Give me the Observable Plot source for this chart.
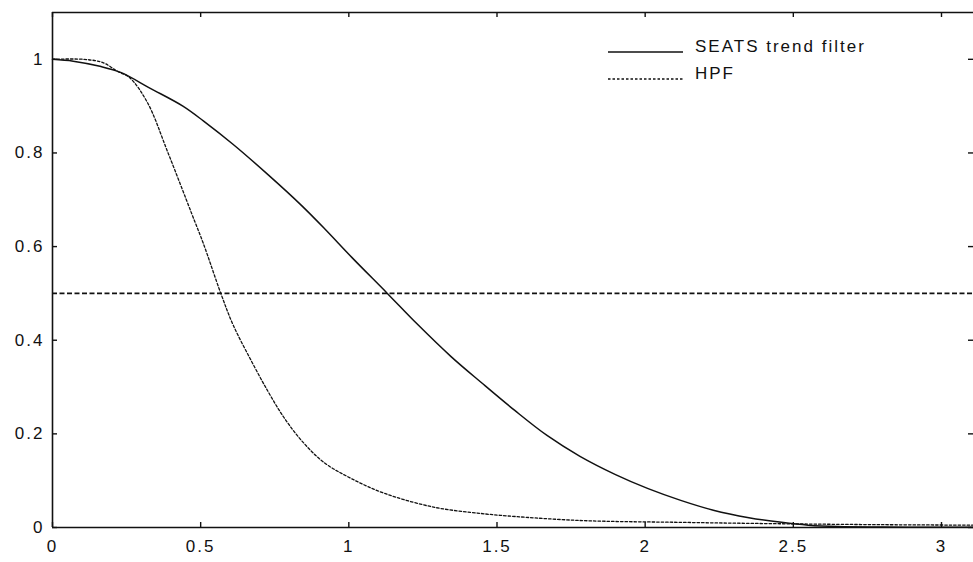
<!DOCTYPE html>
<html>
<head>
<meta charset="utf-8">
<script src="https://cdn.jsdelivr.net/npm/d3@7"></script>
<script src="https://cdn.jsdelivr.net/npm/@observablehq/plot@0.6"></script>
<style>
  html, body { margin: 0; padding: 0; background: #fff; overflow: hidden; }
  #wrap { position: relative; width: 973px; height: 562px; }
  #chart svg text { letter-spacing: 2px; }
  #legend { position: absolute; left: 608px; top: 30px; font-family: "Liberation Sans", Arial, sans-serif; font-size: 17px; letter-spacing: 2px; color: #111; }
  #legend .row { display: flex; align-items: flex-end; height: 27px; }
  #legend svg { margin-right: 12px; margin-bottom: 2px; }
</style>
</head>
<body>
<div id="wrap">
  <div id="chart"></div>
  <div id="legend"></div>
</div>
<script>
// Data
const seatsX = [0, 0.07, 0.16, 0.23, 0.33, 0.44, 0.51, 0.61, 0.73, 0.84, 0.92, 1.01, 1.13, 1.23, 1.345, 1.45, 1.56, 1.67, 1.78, 1.90, 2.01, 2.12, 2.23, 2.35, 2.46, 2.55, 2.65, 2.8, 3.0, 3.11];
const seatsY = [1.0, 0.996, 0.985, 0.972, 0.938, 0.900, 0.868, 0.818, 0.752, 0.688, 0.637, 0.577, 0.5, 0.435, 0.365, 0.308, 0.25, 0.196, 0.152, 0.113, 0.083, 0.058, 0.037, 0.021, 0.011, 0.005, 0.002, 0.001, 0.0005, 0.0005];
const hpfX = [0, 0.105, 0.17, 0.22, 0.26, 0.32, 0.39, 0.47, 0.51, 0.568, 0.61, 0.67, 0.726, 0.78, 0.84, 0.916, 1.007, 1.12, 1.29, 1.446, 1.51, 1.78, 2.12, 2.46, 2.8, 3.11];
const hpfY = [1.0, 1.0, 0.993, 0.974, 0.961, 0.908, 0.80, 0.67, 0.605, 0.5, 0.432, 0.357, 0.292, 0.236, 0.186, 0.139, 0.105, 0.073, 0.043, 0.03, 0.026, 0.015, 0.011, 0.008, 0.006, 0.005];
const halfLevel = [0.5];
const xTicks = [0, 0.5, 1, 1.5, 2, 2.5, 3];
const yTicks = [0, 0.2, 0.4, 0.6, 0.8, 1];
const seriesNames = ["SEATS trend filter", "HPF"];

const seats = seatsX.map((x, i) => ({x, y: seatsY[i]}));
const hpf = hpfX.map((x, i) => ({x, y: hpfY[i]}));

const W = 973, H = 562, mT = 12, mB = 35, mL = 52, mR = 0;
const frameH = H - mT - mB, frameW = W - mL - mR;
const tickLen = 5;
const font = "'Liberation Sans', Arial, sans-serif";

const chart = Plot.plot({
  width: W,
  height: H,
  marginTop: mT,
  marginBottom: mB,
  marginLeft: mL,
  marginRight: mR,
  style: {fontFamily: font, fontSize: "17px", color: "#111", background: "#fff"},
  x: {domain: [0, 3.108], label: null},
  y: {domain: [0, 1.1], label: null},
  marks: [
    // box: top, left, bottom
    Plot.ruleY([1.1], {stroke: "#111", strokeWidth: 1.6}),
    Plot.ruleY([0], {stroke: "#111", strokeWidth: 1.6}),
    Plot.ruleX([0], {stroke: "#111", strokeWidth: 1.6}),
    // inward ticks on all sides
    Plot.tickX(xTicks, {x: d => d, insetTop: frameH - tickLen, stroke: "#111", strokeWidth: 1.4}),
    Plot.tickX(xTicks, {x: d => d, insetBottom: frameH - tickLen, stroke: "#111", strokeWidth: 1.4}),
    Plot.tickY(yTicks, {y: d => d, insetRight: frameW - tickLen, stroke: "#111", strokeWidth: 1.4}),
    Plot.tickY(yTicks, {y: d => d, insetLeft: frameW - tickLen, stroke: "#111", strokeWidth: 1.4}),
    Plot.axisX(xTicks, {anchor: "bottom", tickSize: 0, tickPadding: 12, tickFormat: d => String(d), fontSize: 17, label: null}),
    Plot.axisY(yTicks, {anchor: "left", tickSize: 0, tickPadding: 8, tickFormat: d => String(d), fontSize: 17, label: null}),
    // half level reference line
    Plot.ruleY(halfLevel, {stroke: "#111", strokeWidth: 1.8, strokeDasharray: "5,2.5"}),
    // series
    Plot.line(hpf, {x: "x", y: "y", curve: "catmull-rom", stroke: "#111", strokeWidth: 1.3, strokeDasharray: "2.5,2"}),
    Plot.line(seats, {x: "x", y: "y", curve: "catmull-rom", stroke: "#111", strokeWidth: 1.5})
  ]
});
document.getElementById("chart").appendChild(chart);

// legend
const legend = document.getElementById("legend");
const dashes = [null, "2.5,2"];
seriesNames.forEach((name, i) => {
  const row = document.createElement("div");
  row.className = "row";
  const dash = dashes[i] ? ` stroke-dasharray="${dashes[i]}"` : "";
  row.innerHTML = `<svg width="75" height="6"><line x1="0" y1="3" x2="75" y2="3" stroke="#111" stroke-width="${i ? 1.3 : 1.5}"${dash}/></svg><span>${name}</span>`;
  legend.appendChild(row);
});
</script>
</body>
</html>
